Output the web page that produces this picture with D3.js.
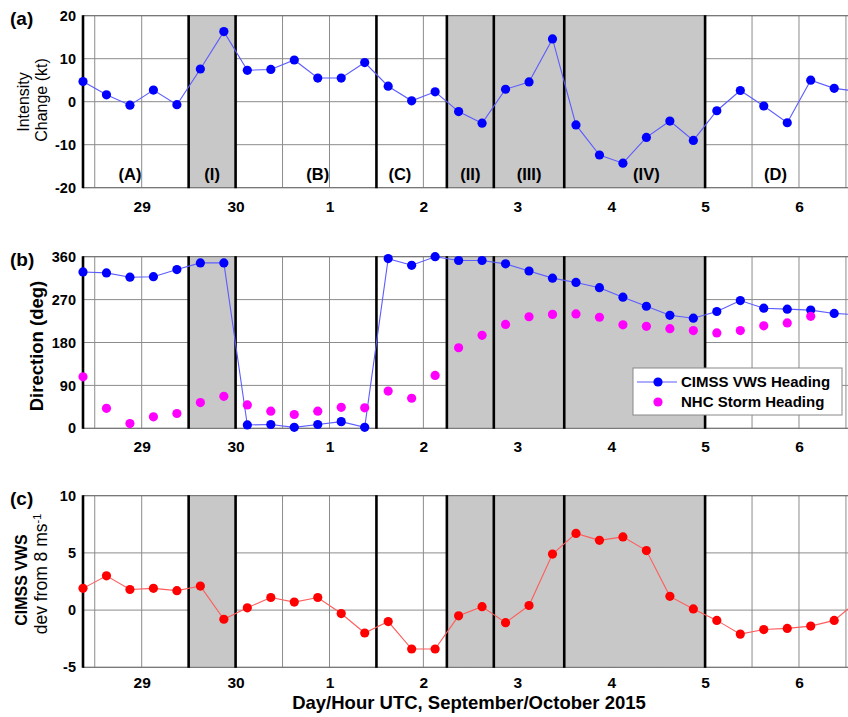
<!DOCTYPE html>
<html>
<head>
<meta charset="utf-8">
<script src="https://cdn.jsdelivr.net/npm/d3@7"></script>
<style>
  body { margin: 0; background: #fff; }
  svg { display: block; font-family: "Liberation Sans", Arial, sans-serif; }
</style>
</head>
<body>
<script>
// 6-hourly analysis times (UTC)
const times = [
  "2015-09-28T09", "2015-09-28T15", "2015-09-28T21",
  "2015-09-29T03", "2015-09-29T09", "2015-09-29T15", "2015-09-29T21",
  "2015-09-30T03", "2015-09-30T09", "2015-09-30T15", "2015-09-30T21",
  "2015-10-01T03", "2015-10-01T09", "2015-10-01T15", "2015-10-01T21",
  "2015-10-02T03", "2015-10-02T09", "2015-10-02T15", "2015-10-02T21",
  "2015-10-03T03", "2015-10-03T09", "2015-10-03T15", "2015-10-03T21",
  "2015-10-04T03", "2015-10-04T09", "2015-10-04T15", "2015-10-04T21",
  "2015-10-05T03", "2015-10-05T09", "2015-10-05T15", "2015-10-05T21",
  "2015-10-06T03", "2015-10-06T09", "2015-10-06T15"
];

// (a) intensity change (kt)
const intensityChange = [4.7, 1.6, -0.8, 2.7, -0.7, 7.6, 16.3, 7.3, 7.5, 9.7, 5.5, 5.5, 9.1, 3.6, 0.2,
  2.3, -2.3, -5.0, 2.9, 4.6, 14.6, -5.4, -12.4, -14.3, -8.3, -4.5, -9.0, -2.1, 2.6, -1.0, -4.9, 5.0, 3.1, 2.4];

// (b) headings (deg)
const vwsHeading = [328, 326, 317, 318, 333, 347, 347, 7, 8, 2, 8, 14, 2, 356, 342,
  360, 352, 352, 345, 330, 315, 306, 295, 275, 256, 237, 231, 245, 268, 252, 250, 248, 241, 238];
const nhcHeading = [108, 42, 10, 24, 31, 54, 67, 49, 36, 29, 36, 44, 43, 78, 63,
  111, 169, 195, 218, 234, 239, 240, 233, 217, 214, 209, 205, 200, 205, 215, 221, 235, null, null];

// (c) CIMSS VWS deviation from 8 m/s
const vwsDev = [1.9, 3.0, 1.8, 1.9, 1.7, 2.1, -0.8, 0.2, 1.1, 0.7, 1.1, -0.3, -2.0, -1.0, -3.4,
  -3.4, -0.5, 0.3, -1.1, 0.4, 4.9, 6.7, 6.1, 6.4, 5.2, 1.2, 0.1, -0.9, -2.1, -1.7, -1.6, -1.4, -0.9, 0.8];

// period boundaries and shaded periods
const boundaries = ["2015-09-28T09", "2015-09-29T12", "2015-09-30T00", "2015-10-01T12",
  "2015-10-02T06", "2015-10-02T18", "2015-10-03T12", "2015-10-05T00"];
const shaded = [["2015-09-29T12", "2015-09-30T00"], ["2015-10-02T06", "2015-10-02T18"],
  ["2015-10-02T18", "2015-10-03T12"], ["2015-10-03T12", "2015-10-05T00"]];
const periodNames = ["(A)", "(I)", "(B)", "(C)", "(II)", "(III)", "(IV)", "(D)"];
const periodLabelAt = ["2015-09-28T21", "2015-09-29T18", "2015-09-30T21", "2015-10-01T18",
  "2015-10-02T12", "2015-10-03T03", "2015-10-04T09", "2015-10-05T18"];
const dayTicks = ["2015-09-29T00", "2015-09-30T00", "2015-10-01T00", "2015-10-02T00",
  "2015-10-03T00", "2015-10-04T00", "2015-10-05T00", "2015-10-06T00"];

const parse = d3.utcParse("%Y-%m-%dT%H");
const T = times.map(parse);

const W = 848, H = 717;
const x0 = 83;
const x = d3.scaleUtc()
  .domain([parse("2015-09-28T09"), parse("2015-10-06T18")])
  .range([x0, x0 + 8.375 * 93.9]);
const xEnd = x.range()[1];

const svg = d3.select("body").append("svg").attr("width", W).attr("height", H);

const gridColor = "#8c8c8c";

function panel(opt) {
  const y = d3.scaleLinear().domain(opt.domain).range([opt.bottom, opt.top]);
  const g = svg.append("g");

  // grid first, shading covers it
  const vgrid = d3.utcHour.every(12).range(parse("2015-09-28T12"), parse("2015-10-06T13"));
  g.selectAll("line.vg").data(vgrid).join("line")
    .attr("x1", d => x(d)).attr("x2", d => x(d))
    .attr("y1", opt.top).attr("y2", opt.bottom)
    .attr("stroke", gridColor).attr("stroke-width", 1);

  g.selectAll("line.hg").data(opt.ticks).join("line")
    .attr("x1", x0).attr("x2", xEnd)
    .attr("y1", d => y(d)).attr("y2", d => y(d))
    .attr("stroke", gridColor).attr("stroke-width", 1);

  g.selectAll("rect.shade").data(shaded).join("rect")
    .attr("x", d => x(parse(d[0])))
    .attr("width", d => x(parse(d[1])) - x(parse(d[0])))
    .attr("y", opt.top).attr("height", opt.bottom - opt.top)
    .attr("fill", "#c8c8c8");

  // frame top/bottom
  g.selectAll("line.fr").data(opt.domain).join("line")
    .attr("x1", x0).attr("x2", xEnd)
    .attr("y1", d => y(d)).attr("y2", d => y(d))
    .attr("stroke", "#6e6e6e").attr("stroke-width", 1);

  g.selectAll("line.bd").data(boundaries).join("line")
    .attr("x1", d => x(parse(d))).attr("x2", d => x(parse(d)))
    .attr("y1", opt.top - 0.5).attr("y2", opt.bottom + 0.5)
    .attr("stroke", "#000").attr("stroke-width", 2.6);

  const xa = g.append("g")
    .attr("transform", `translate(0,${opt.bottom})`)
    .call(d3.axisBottom(x).tickValues(dayTicks.map(parse))
      .tickFormat(d3.utcFormat("%-d")).tickSize(0).tickPadding(opt.xpad));
  xa.select(".domain").remove();
  xa.selectAll("text").attr("font-size", 15.5).attr("font-weight", "bold")
    .attr("fill", "#000").attr("font-family", null);

  const ya = g.append("g")
    .attr("transform", `translate(${x0},0)`)
    .call(d3.axisLeft(y).tickValues(opt.ticks).tickFormat(d => String(d))
      .tickSize(0).tickPadding(7));
  ya.select(".domain").remove();
  ya.selectAll("text").attr("font-size", 14.5).attr("font-weight", "bold")
    .attr("fill", "#000").attr("font-family", null);

  svg.append("text").attr("x", 10).attr("y", opt.top + 9)
    .attr("font-size", 19).attr("font-weight", "bold").text(`(${opt.key})`);

  return {g, y};
}

function series(p, values, color, lineColor, withLine) {
  const pts = T.map((t, i) => ({t, v: values[i]})).filter(d => d.v != null);
  if (withLine) {
    p.g.append("path").datum(pts)
      .attr("fill", "none").attr("stroke", lineColor).attr("stroke-width", 1.1)
      .attr("d", d3.line().x(d => x(d.t)).y(d => p.y(d.v)));
  }
  p.g.selectAll(null).data(pts).join("circle")
    .attr("cx", d => x(d.t)).attr("cy", d => p.y(d.v)).attr("r", 4.6)
    .attr("fill", color);
}

// (a)
const pa = panel({key: "a", top: 15.7, bottom: 187.7, domain: [-20, 20], ticks: [-20, -10, 0, 10, 20], xpad: 13});
series(pa, intensityChange, "#0000ff", "#5c5cff", true);
pa.g.selectAll("text.per").data(periodNames).join("text")
  .attr("x", (d, i) => x(parse(periodLabelAt[i]))).attr("y", 180)
  .attr("text-anchor", "middle").attr("font-size", 16.5).attr("font-weight", "bold")
  .text(d => d);

// (b)
const pb = panel({key: "b", top: 256.7, bottom: 428.3, domain: [0, 360], ticks: [0, 90, 180, 270, 360], xpad: 13});
series(pb, vwsHeading, "#0000ff", "#5c5cff", true);
series(pb, nhcHeading, "#ff00ff", null, false);

// (c)
const pc = panel({key: "c", top: 495.7, bottom: 667.3, domain: [-5, 10], ticks: [-5, 0, 5, 10], xpad: 10});
series(pc, vwsDev, "#ff0000", "#ff5c5c", true);

// legend
const lg = svg.append("g").attr("transform", "translate(633,368)");
lg.append("rect").attr("width", 209).attr("height", 47).attr("fill", "#fff").attr("stroke", "#888");
lg.append("line").attr("x1", 4).attr("x2", 44).attr("y1", 14).attr("y2", 14)
  .attr("stroke", "#5c5cff").attr("stroke-width", 1.1);
lg.append("circle").attr("cx", 25).attr("cy", 14).attr("r", 4.6).attr("fill", "#0000ff");
lg.append("circle").attr("cx", 25).attr("cy", 34).attr("r", 4.6).attr("fill", "#ff00ff");
lg.append("text").attr("x", 48).attr("y", 14).attr("dy", "0.36em")
  .attr("font-size", 15).attr("font-weight", "bold").text("CIMSS VWS Heading");
lg.append("text").attr("x", 48).attr("y", 34).attr("dy", "0.36em")
  .attr("font-size", 15).attr("font-weight", "bold").text("NHC Storm Heading");

// y axis titles
function vtext(cx, cy, size, weight, str) {
  return svg.append("text")
    .attr("transform", `translate(${cx},${cy}) rotate(-90)`)
    .attr("text-anchor", "middle").attr("dy", "0.35em")
    .attr("font-size", size).attr("font-weight", weight).text(str);
}
vtext(23, 102, 16, "normal", "Intensity");
vtext(41, 100, 16, "normal", "Change (kt)");
vtext(37, 346, 18.5, "bold", "Direction (deg)");
vtext(21, 580, 16, "bold", "CIMSS VWS");
const dev = vtext(41, 574, 17.5, "normal", "dev from 8 ms");
dev.append("tspan").attr("font-size", 11).attr("baseline-shift", "super").text("-1");

// x axis title
svg.append("text").attr("x", 469).attr("y", 709).attr("text-anchor", "middle")
  .attr("font-size", 18.5).attr("font-weight", "bold")
  .text("Day/Hour UTC, September/October 2015");
</script>
</body>
</html>
